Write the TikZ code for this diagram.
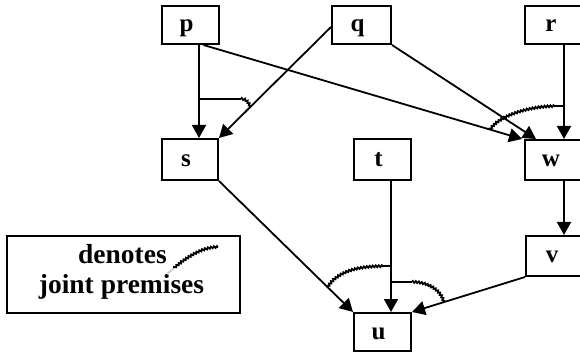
\documentclass[tikz,border=0pt]{standalone}
\usepackage{fontspec}
\setmainfont{Liberation Serif}
\usetikzlibrary{arrows.meta,calc,decorations.pathmorphing}
\begin{document}
\begin{tikzpicture}[x=1pt,y=-1pt,
  box/.style={draw,line width=2pt,rectangle,inner sep=0pt,minimum width=57pt,minimum height=38pt,text height=14pt,text depth=0pt,font=\fontsize{25}{25}\selectfont\bfseries,execute at end node={\hspace*{8pt}}},
  arr/.style={line width=1.8pt,-{Triangle[length=13pt,width=14pt]}},
  plain/.style={line width=1.8pt},
  joint/.style={line width=1.8pt,decorate,decoration={zigzag,segment length=3pt,amplitude=0.9pt}},
  legtext/.style={inner sep=0pt,anchor=base,font=\fontsize{27.5}{29}\selectfont\bfseries}]
\useasboundingbox (0,0) rectangle (580,352);
\clip (0,0) rectangle (580,352);
% boxes
\node[box,minimum width=57pt] (p) at (190.5,25) {p};
\node[box,minimum width=59pt] (q) at (361.5,25) {q};
\node[box,minimum width=60pt] (r) at (555,25) {r};
\node[box,minimum height=41pt,minimum width=56pt] (s) at (190,159.5) {s};
\node[box,minimum height=41pt] (t) at (382.5,159.5) {t};
\node[box,minimum height=40pt,minimum width=60pt] (w) at (555,160) {w};
\node[box,minimum height=40pt,minimum width=60pt] (v) at (556,256) {v};
\node[box] (u) at (382.5,332) {u};
% legend
\node[draw,line width=2pt,minimum width=233pt,minimum height=77pt,inner sep=0pt] (leg) at (123.5,274.5) {};
\node[legtext] (den) at (122.5,264) {denotes};
\node[legtext] (jp) at (121.5,293) {joint premises};
\coordinate (sq0) at ($(den.base east)+(0,10)$);
\coordinate (sq1) at ($(den.base east)+(7,4)$);
\coordinate (sq2) at ($(den.base east)+(51,-17)$);
\draw[gray!40,line width=1.8pt] (sq0) -- (sq1);
\draw[joint] (sq1) .. controls +(14,-12) and +(-15,0) .. (sq2);
% connectors
\draw[arr] ([xshift=8.5pt]p.south) -- ([xshift=8.5pt]p.south |- s.north);
\draw[arr] ([xshift=13pt]p.south) -- ([xshift=-2pt]w.north west);
\draw[arr] ([yshift=-2pt]q.west) -- (s.north east);
\draw[arr] (q.south east) -- ([xshift=12pt]w.north west);
\draw[arr] ([xshift=9pt]r.south) -- ([xshift=9pt]r.south |- w.north);
\draw[arr] (s.south east) -- (u.north west);
\draw[arr] ([xshift=8.5pt]t.south) -- ([xshift=8.5pt]t.south |- u.north);
\draw[arr] ([xshift=9pt]w.south) -- ([xshift=9pt]w.south |- v.north);
\draw[arr] (v.south west) -- (u.north east);
% joint premises
\coordinate (j1a) at ($([xshift=8.5pt]p.south)!0.58!([xshift=8.5pt]p.south |- s.north)$);
\coordinate (j1b) at ($([yshift=-2pt]q.west)!0.72!(s.north east)$);
\draw[plain] (j1a) -- ++(42,0) coordinate (j1c);
\draw[joint] (j1c) .. controls +(5,0) and +(-2,-5) .. (j1b);
\coordinate (j2a) at ($([xshift=13pt]p.south)!0.9!([xshift=-2pt]w.north west)$);
\coordinate (j2b) at ($([xshift=9pt]r.south)!0.65!([xshift=9pt]r.south |- w.north)$);
\draw[joint] (j2a) .. controls +(8,-14) and +(-25,0) .. ($(j2b)+(-9,0)$);
\draw[plain] ($(j2b)+(-9,0)$) -- (j2b);
\coordinate (j3a) at ($(s.south east)!0.81!(u.north west)$);
\coordinate (j3b) at ($([xshift=8.5pt]t.south)!0.65!([xshift=8.5pt]t.south |- u.north)$);
\draw[joint] (j3a) .. controls +(10,-16) and +(-25,0) .. ($(j3b)+(-8,0)$);
\draw[plain] ($(j3b)+(-8,0)$) -- (j3b);
\coordinate (j4a) at ($([xshift=8.5pt]t.south)!0.77!([xshift=8.5pt]t.south |- u.north)$);
\coordinate (j4b) at ($(v.south west)!0.72!(u.north east)$);
\draw[plain] (j4a) -- ++(21,0) coordinate (j4c);
\draw[joint] (j4c) .. controls +(16,0) and +(-2,-12) .. (j4b);
\end{tikzpicture}
\end{document}
